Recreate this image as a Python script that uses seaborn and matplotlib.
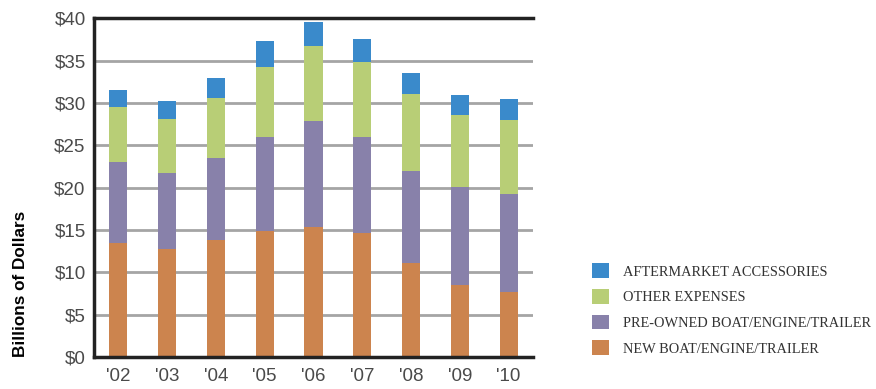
import numpy as np
import pandas as pd
import matplotlib
matplotlib.use("Agg")
import matplotlib.pyplot as plt
import matplotlib.patches as mpatches
import seaborn as sns

years = ["'02", "'03", "'04", "'05", "'06", "'07", "'08", "'09", "'10"]
new_boat = [13.45, 12.74, 13.85, 14.87, 15.35, 14.64, 11.10, 8.50, 7.67]
pre_owned = [9.55, 8.96, 9.65, 11.13, 12.55, 11.36, 10.86, 11.57, 11.57]
other_exp = [6.50, 6.40, 7.10, 8.30, 8.80, 8.80, 9.09, 8.53, 8.74]
aftermarket = [2.00, 2.10, 2.30, 3.00, 2.85, 2.70, 2.45, 2.30, 2.48]

series_names = ["NEW BOAT/ENGINE/TRAILER", "PRE-OWNED BOAT/ENGINE/TRAILER",
                "OTHER EXPENSES", "AFTERMARKET ACCESSORIES"]
series_vals = [new_boat, pre_owned, other_exp, aftermarket]
colors = ["#CC844E", "#8881AA", "#B8CE76", "#3A8ACB"]
y_ticks = [0, 5, 10, 15, 20, 25, 30, 35, 40]
y_labels = ["$0", "$5", "$10", "$15", "$20", "$25", "$30", "$35", "$40"]

sns.set_style("white")
plt.rcParams["font.family"] = ["Liberation Sans", "DejaVu Sans"]

fig = plt.figure(figsize=(8.76, 3.89), dpi=100)
ax = fig.add_axes([94 / 876, 32 / 389, (533 - 94) / 876, (357 - 18.3) / 389])

cum = np.cumsum(np.array(series_vals), axis=0)
df = pd.DataFrame({"year": years})
for i in range(len(series_names) - 1, -1, -1):
    df["v"] = cum[i]
    sns.barplot(data=df, x="year", y="v", color=colors[i], saturation=1,
                width=0.37, ax=ax, zorder=3, linewidth=0, edgecolor="none")

ax.set_xlim(-0.5, 8.5)
ax.set_ylim(0, 40)
for yv in y_ticks[1:-1]:
    ax.axhline(yv, color="#a5a5a5", lw=2, zorder=1)

ax.set_yticks(y_ticks)
ax.set_yticklabels(y_labels, fontsize=13.5, color="#4a4a4a")
ax.tick_params(axis="y", length=0, pad=6)
ax.tick_params(axis="x", which="major", length=0, pad=8, labelsize=13.5, labelcolor="#4a4a4a")
ax.set_xticks(np.arange(0.5, 8.6, 1.0), minor=True)
ax.tick_params(axis="x", which="minor", direction="in", length=7, width=2, color="#222222")

for s in ["left", "bottom", "top"]:
    ax.spines[s].set_visible(True)
    ax.spines[s].set_color("#222222")
    ax.spines[s].set_linewidth(2.5)
    ax.spines[s].set_zorder(4)
ax.spines["right"].set_visible(False)

ax.set_xlabel("")
ax.set_ylabel("Billions of Dollars", fontsize=12.3, fontweight="bold", color="black",
              loc="bottom", labelpad=19)

handles = [mpatches.Patch(facecolor=colors[i], edgecolor="none", label=series_names[i])
           for i in range(3, -1, -1)]
fig.legend(handles=handles, loc="upper left", bbox_to_anchor=(585 / 876, 1 - 256 / 389),
           frameon=False, prop={"family": "Liberation Serif", "size": 10.4},
           handlelength=1.15, handleheight=1.2, handletextpad=1.0, labelspacing=0.72,
           borderpad=0, labelcolor="#333333")

fig.savefig("out.png", dpi=100)
